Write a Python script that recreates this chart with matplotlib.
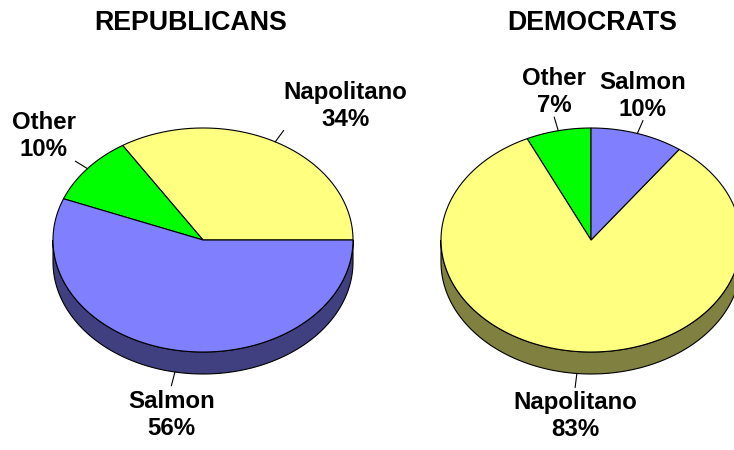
import numpy as np
import matplotlib
matplotlib.use("Agg")
import matplotlib.pyplot as plt
from matplotlib.patches import Polygon

plt.rcParams['font.family'] = ['Liberation Sans', 'DejaVu Sans']

# ---- data ----
titles = ["REPUBLICANS", "DEMOCRATS"]
rep_labels = ["Napolitano", "Other", "Salmon"]   # counter-clockwise from 3 o'clock
rep_values = [34, 10, 56]
dem_labels = ["Other", "Napolitano", "Salmon"]   # counter-clockwise from 12 o'clock
dem_values = [7, 83, 10]
start_angles = [0, 90]

top_colors = {"Napolitano": "#FFFF80", "Other": "#00FF00", "Salmon": "#8080FF"}
side_colors = {"Napolitano": "#808040", "Other": "#008000", "Salmon": "#404080"}

W, H = 734, 450
fig = plt.figure(figsize=(W / 100, H / 100), dpi=100)
ax = fig.add_axes([0, 0, 1, 1])
ax.set_xlim(0, W)
ax.set_ylim(H, 0)
ax.axis("off")

RX, RY, DEPTH = 150, 112, 22
centers = [(203, 240), (591, 240)]
title_pos = [(191, 23), (592, 23)]
LW = 0.8
LABEL_FS = 17.3
TITLE_FS = 19.3


def pt(cx, cy, t, dz=0.0):
    return cx + RX * np.cos(t), cy - RY * np.sin(t) + dz


def draw_pie(cx, cy, labels, values, start):
    total = float(sum(values))
    angles = [start]
    for v in values:
        angles.append(angles[-1] + 360.0 * v / total)
    # sides (front half only)
    for lab, a0, a1 in zip(labels, angles[:-1], angles[1:]):
        for k in (-1, 0, 1, 2):
            lo = max(a0, 180 + 360 * k)
            hi = min(a1, 360 + 360 * k)
            if hi > lo:
                t = np.radians(np.linspace(lo, hi, 120))
                xs, ys = pt(cx, cy, t)
                xb, yb = pt(cx, cy, t[::-1], DEPTH)
                poly = np.column_stack([np.r_[xs, xb], np.r_[ys, yb]])
                ax.add_patch(Polygon(poly, closed=True, facecolor=side_colors[lab],
                                     edgecolor="black", lw=LW, zorder=1))
    # tops
    for lab, a0, a1 in zip(labels, angles[:-1], angles[1:]):
        t = np.radians(np.linspace(a0, a1, 200))
        xs, ys = pt(cx, cy, t)
        poly = np.column_stack([np.r_[cx, xs], np.r_[cy, ys]])
        ax.add_patch(Polygon(poly, closed=True, facecolor=top_colors[lab],
                             edgecolor="black", lw=LW, zorder=2, joinstyle="miter"))
    # leaders and labels
    for lab, v, a0, a1 in zip(labels, values, angles[:-1], angles[1:]):
        m = np.radians((a0 + a1) / 2)
        dz = DEPTH if np.sin(m) < 0 else 0
        sx, sy = pt(cx, cy, m, dz)
        d = np.array([RX * np.cos(m), -RY * np.sin(m)])
        d /= np.hypot(*d)
        ex, ey = sx + 14 * d[0], sy + 14 * d[1]
        ax.plot([sx, ex], [sy, ey], color="black", lw=LW, zorder=3)
        ha = "left" if d[0] > 0.5 else ("right" if d[0] < -0.5 else "center")
        va = "bottom" if d[1] < 0 else "top"
        ty = ey + (4 if va == "top" else 0)
        ax.text(ex, ty, f"{lab}\n{v}%", ha=ha, va=va, multialignment="center",
                fontsize=LABEL_FS, fontweight="bold", linespacing=1.22, zorder=4)


draw_pie(*centers[0], rep_labels, rep_values, start_angles[0])
draw_pie(*centers[1], dem_labels, dem_values, start_angles[1])

for (tx, ty), ttl in zip(title_pos, titles):
    ax.text(tx, ty, ttl, ha="center", va="center", fontsize=TITLE_FS, fontweight="bold")

fig.savefig("out.png", dpi=100)
